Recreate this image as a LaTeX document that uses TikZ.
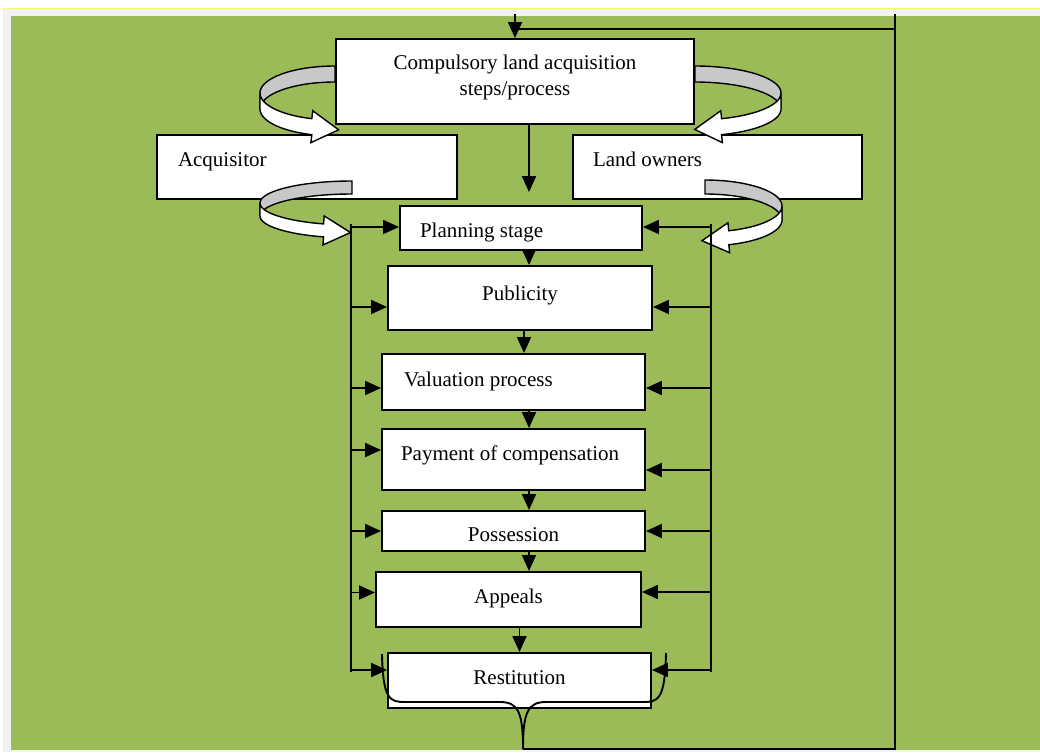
\documentclass[tikz,border=0pt]{standalone}
\usepackage{fontspec}
\setmainfont{Liberation Serif}
\usetikzlibrary{arrows.meta}

\definecolor{leaf}{HTML}{9BBB59}
\definecolor{strip}{HTML}{F2F2F2}
\definecolor{ribbon}{HTML}{C8C8C8}

\tikzset{
  pics/uturn/.style n args={3}{code={
    \pgfmathsetmacro\ux{#1*cos(108)}
    \pgfmathsetmacro\uy{#2*sin(108)}
    \pgfmathsetmacro\ua{atan2(-#2*cos(108),#1*sin(108))}
    % back of the ribbon
    \filldraw[fill=ribbon, line width=1.4pt]
      plot[domain=270:180, samples=30] ({#1*cos(\x)},{#2*sin(\x)})
      -- plot[domain=180:270, samples=30] ({#1*cos(\x)},{#3+#2*sin(\x)}) -- cycle;
    % front of the ribbon and its head
    \filldraw[fill=white, line width=1.4pt]
      plot[domain=180:108, samples=30] ({#1*cos(\x)},{#2*sin(\x)})
      -- ({\ux+8*cos(\ua-90)},{\uy+8*sin(\ua-90)})
      -- ({\ux+27*cos(\ua)},{\uy+#3/2+27*sin(\ua)})
      -- ({\ux+8*cos(\ua+90)},{\uy+#3+8*sin(\ua+90)})
      -- (\ux,{\uy+#3})
      -- plot[domain=108:180, samples=30] ({#1*cos(\x)},{#3+#2*sin(\x)}) -- cycle;
  }}
}

\begin{document}
\begin{tikzpicture}[x=1pt, y=-1pt,
  every node/.style={font=\fontsize{21}{26}\selectfont},
  stagebox/.style={draw, fill=white, line width=1.9pt, inner sep=0pt,
    text height=15pt, text depth=5pt},
  arr/.style={line width=1.9pt, -{Triangle[length=16pt,width=14pt]}},
  link/.style={line width=1.9pt}
]
\useasboundingbox (0,0) rectangle (1040,752);

% page background
\fill[white] (0,0) rectangle (1040,752);
\fill[strip] (3,9) rectangle (1040,752);
\draw[yellow!60] (3,8.5) -- (1040,8.5);
\fill[leaf] (11,16) rectangle (1040,750);

% boxes
\node[stagebox, minimum width=358pt, minimum height=85pt, align=center,
  text height=41pt, text depth=14pt] (landproc) at (515,81.5)
  {Compulsory land acquisition\\steps/process};
\node[stagebox, minimum width=300pt, minimum height=64pt, text width=258pt,
  align=flush left, text depth=17pt] (acquisitor) at (307,167) {Acquisitor};
\node[stagebox, minimum width=289pt, minimum height=64pt, text width=249pt,
  align=flush left, text depth=17pt] (owners) at (717.5,167) {Land owners};

\node[stagebox, minimum width=242pt, minimum height=44pt, text width=202pt,
  align=flush left, text height=23pt] (planning) at (521,228) {Planning stage};
\node[stagebox, minimum width=264pt, minimum height=64pt,
  text depth=11pt] (publicity) at (520,298) {Publicity};
\node[stagebox, minimum width=263pt, minimum height=56pt, text width=219pt,
  align=flush left, text depth=7pt] (valuation) at (513.5,382) {Valuation process};
\node[stagebox, minimum width=263pt, minimum height=61pt, text width=225pt,
  align=flush left, text depth=14pt] (payment) at (513.5,459.5) {Payment of compensation};
\node[stagebox, minimum width=263pt, minimum height=40pt,
  text height=25pt] (possession) at (513.5,531) {Possession};
\node[stagebox, minimum width=265pt, minimum height=55pt,
  text depth=7pt] (appeals) at (508.5,599.5) {Appeals};
\node[stagebox, minimum width=263pt, minimum height=55pt,
  text depth=8pt] (restitution) at (519.5,680.5) {Restitution};

% curved arrows between the parties
\pic at (335,93) {uturn={75}{27}{16}};
\pic[xscale=-1] at (695,93) {uturn={86}{27}{16}};
\pic at (352,203) {uturn={92}{22}{13}};
\pic[xscale=-1] at (705,206) {uturn={77}{26}{14}};

% side buses
\coordinate (lbus) at (351,224);
\coordinate (lbusend) at (351,672);
\coordinate (rbus) at (711,224);
\coordinate (rbusend) at (711,672);
\draw[link] (lbus) -- (lbusend);
\draw[link] (rbus) -- (rbusend);
\foreach \st/\dl/\dr in {planning/1/1, publicity/-9/-9, valuation/-6/-6,
    payment/9.5/-10.5, possession/0/0, appeals/7/7.5, restitution/10.5/10.5}{
  \draw[arr] ([yshift=\dl pt]\st.west -| lbus) -- ([yshift=\dl pt]\st.west);
  \draw[arr] ([yshift=\dr pt]\st.east -| rbus) -- ([yshift=\dr pt]\st.east);
}

% main flow
\coordinate (spine) at (529,0);
\draw[arr] (landproc.south -| spine) -- ([yshift=13pt]planning.north -| spine);
\foreach \a/\b in {planning/publicity, valuation/payment, payment/possession,
    possession/appeals}
  \draw[arr] (\a.south -| spine) -- (\b.north -| spine);
\draw[arr] ([xshift=4pt]publicity.south) -- ([xshift=4pt]publicity.south |- valuation.north);
\draw[arr] (appeals.south -| restitution.north) -- (restitution.north);

% brace under restitution and the loop back
\coordinate (bracetip) at (523,749);
\draw[link] (382,654) .. controls (383,700) and (390,702) .. (405,702)
  -- (500,702) .. controls (518,702) and (523,712) .. (bracetip);
\draw[link] (666,653) .. controls (665,700) and (658,702) .. (643,702)
  -- (546,702) .. controls (528,702) and (523,712) .. (bracetip);
\coordinate (fbtop) at (895,14);
\coordinate (fbbot) at (895,749);
\coordinate (fbturn) at (895,29);
\draw[link] (bracetip) -- (fbbot) -- (fbtop);
\draw[link] (fbturn) -- (fbturn -| landproc.north);
\draw[arr] (landproc.north |- fbtop) -- (landproc.north);
\end{tikzpicture}
\end{document}
